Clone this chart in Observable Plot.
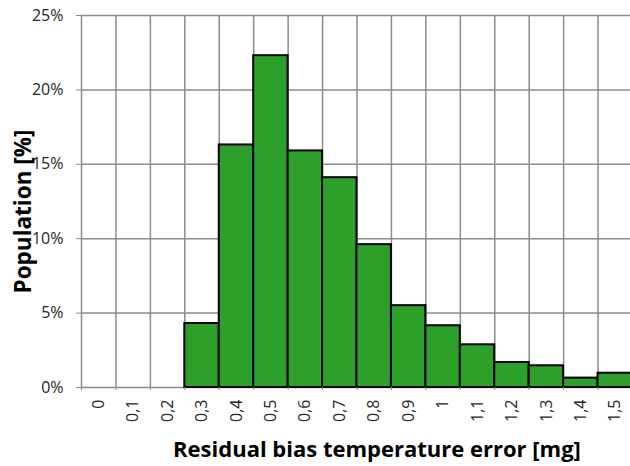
<!DOCTYPE html>
<html>
<head>
<meta charset="utf-8">
<script src="https://cdn.jsdelivr.net/npm/d3@7"></script>
<script src="https://cdn.jsdelivr.net/npm/@observablehq/plot@0.6"></script>
<style>
  html, body { margin: 0; padding: 0; background: #fff; }
  #chart { width: 630px; height: 466px; }
</style>
</head>
<body>
<div id="chart"></div>
<script>
const categories = ["0", "0,1", "0,2", "0,3", "0,4", "0,5", "0,6", "0,7", "0,8", "0,9", "1", "1,1", "1,2", "1,3", "1,4", "1,5"];
const population = [0, 0, 0, 4.3, 16.3, 22.3, 15.9, 14.1, 9.6, 5.5, 4.15, 2.87, 1.68, 1.46, 0.63, 0.96];
const yTicks = [0, 5, 10, 15, 20, 25];
const xTitle = "Residual bias temperature error [mg]";
const yTitle = "Population [%]";

const data = categories.map((c, i) => ({cat: c, i, v: population[i]}));
const bounds = d3.range(0, categories.length);
const centers = categories.map((c, i) => i + 0.5);
const grid = "#8c8c8c";

const chart = Plot.plot({
  width: 630,
  height: 466,
  marginLeft: 81,
  marginRight: -2,
  marginTop: 15,
  marginBottom: 79,
  style: {fontFamily: "'Open Sans', Lato, sans-serif", fontSize: "16px", color: "#262626", background: "#fff"},
  x: {type: "linear", domain: [0, categories.length]},
  y: {type: "linear", domain: [0, 25]},
  marks: [
    Plot.ruleY(yTicks, {stroke: grid, strokeWidth: 1.5}),
    Plot.ruleX(bounds, {y1: 0, y2: 25, stroke: grid, strokeWidth: 1.5}),
    Plot.rectY(data.filter(d => d.v > 0), {x1: "i", x2: d => d.i + 1, y: "v", fill: "#2ca02a", stroke: "#000", strokeWidth: 2}),
    Plot.axisY({ticks: yTicks, tickFormat: d => d + "%", tickSize: 5, tickPadding: 13, stroke: grid, label: null, fontSize: 16}),
    Plot.axisX({ticks: bounds, tickFormat: () => "", tickSize: 3, stroke: grid, label: null}),
    Plot.axisX({ticks: centers, tickFormat: d => categories[Math.round(d - 0.5)], tickSize: 0, tickPadding: 12, tickRotate: -90, label: null, fontSize: 16}),
    Plot.text([yTitle], {frameAnchor: "left", rotate: -90, dx: -51, dy: 10, textAnchor: "middle", lineAnchor: "bottom", fontWeight: "bold", fontSize: 22.5, fill: "#000"}),
    Plot.text([xTitle], {frameAnchor: "bottom", dx: 20, dy: 69, textAnchor: "middle", lineAnchor: "bottom", fontWeight: "bold", fontSize: 22, fill: "#000"})
  ]
});
document.getElementById("chart").appendChild(chart);
</script>
</body>
</html>
